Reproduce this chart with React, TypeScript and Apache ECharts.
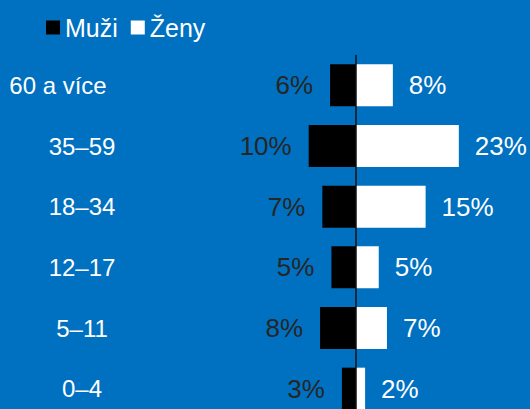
import React, { useEffect, useRef } from "react";
import * as echarts from "echarts";

const categories = ["60 a více", "35–59", "18–34", "12–17", "5–11", "0–4"];
const men = [5.7, 10.4, 7.4, 5.4, 7.9, 3.1];
const women = [8.1, 22.6, 15.3, 5.0, 6.8, 2.0];
const seriesNames = ["Muži", "Ženy"];

const FONT = '"Liberation Sans", Arial, sans-serif';

export default function App() {
  const ref = useRef<HTMLDivElement>(null);
  useEffect(() => {
    document.body.style.margin = "0";
    const chart = echarts.init(ref.current!, null, { renderer: "svg" });
    const pct = (p: any) => Math.round(Math.abs(p.value)) + "%";
    chart.setOption({
      animation: false,
      backgroundColor: "#0070C0",
      textStyle: { fontFamily: FONT },
      legend: {
        left: 41,
        top: 10,
        itemWidth: 14,
        itemHeight: 14,
        itemGap: 13,
        icon: "rect",
        data: seriesNames,
        textStyle: { color: "#ffffff", fontSize: 25, fontFamily: FONT },
      },
      grid: { left: 130, right: 0, top: 55, bottom: 0, containLabel: false },
      xAxis: {
        type: "value",
        min: -49.67,
        max: 38.24,
        show: false,
      },
      yAxis: {
        type: "category",
        inverse: true,
        data: categories,
        axisLine: { show: false },
        axisTick: { show: false },
        splitLine: { show: false },
        axisLabel: {
          color: "#ffffff",
          fontSize: 24,
          fontFamily: FONT,
          align: "center",
          margin: 48,
          formatter: (v: string, i: number) => (i === 0 ? "{a|" + v + "}" : v),
          rich: {
            a: { color: "#ffffff", fontSize: 24, fontFamily: FONT, padding: [0, 48, 0, 0] },
          },
        },
      },
      series: [
        {
          name: seriesNames[0],
          type: "bar",
          stack: "all",
          barWidth: 42,
          itemStyle: { color: "#000000" },
          data: men.map((v) => -v),
          label: {
            show: true,
            position: "left",
            distance: 17,
            color: "#262626",
            fontSize: 26,
            fontFamily: FONT,
            formatter: pct,
          },
          markLine: {
            silent: true,
            symbol: "none",
            label: { show: false },
            lineStyle: { color: "#111111", width: 1.5, type: "solid" },
            data: [{ xAxis: 0 }],
          },
          z: 3,
        },
        {
          name: seriesNames[1],
          type: "bar",
          stack: "all",
          barWidth: 42,
          itemStyle: { color: "#ffffff" },
          data: women,
          label: {
            show: true,
            position: "right",
            distance: 16,
            color: "#ffffff",
            fontSize: 26,
            fontFamily: FONT,
            formatter: pct,
          },
          z: 2,
        },
      ],
    });
    return () => chart.dispose();
  }, []);
  return (
    <div
      style={{
        position: "absolute",
        left: 0,
        top: 0,
        width: 530,
        height: 409,
        overflow: "hidden",
        background: "#0070C0",
      }}
    >
      <div ref={ref} style={{ width: 530, height: 419 }} />
    </div>
  );
}
